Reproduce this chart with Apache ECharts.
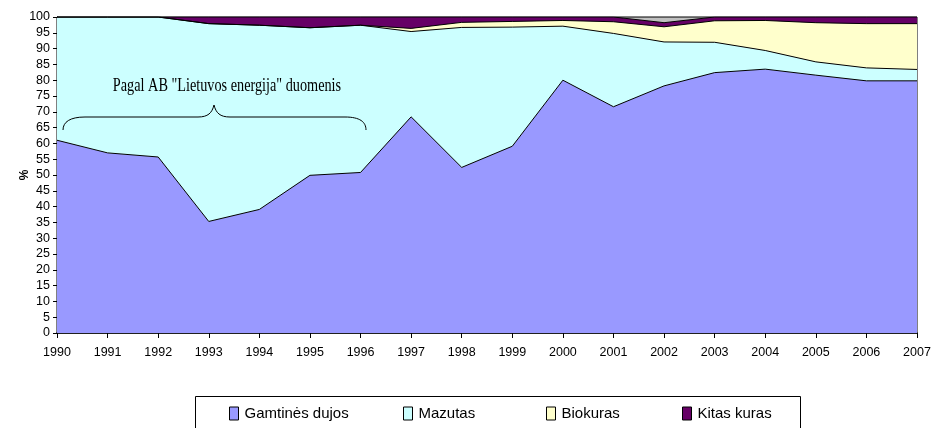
<!DOCTYPE html>
<html>
<head>
<meta charset="utf-8">
<script src="https://cdn.jsdelivr.net/npm/echarts@6.0.0/dist/echarts.min.js"></script>
<style>
  html, body { margin: 0; padding: 0; background: #fff; }
  #kuras { width: 931px; height: 428px; }
</style>
</head>
<body>
<div id="kuras"></div>
<script>
// metai
var metai = ['1990', '1991', '1992', '1993', '1994', '1995', '1996', '1997', '1998',
             '1999', '2000', '2001', '2002', '2003', '2004', '2005', '2006', '2007'];

// kuro struktura, %
var dujos   = [61.0, 57.0, 55.7, 35.3, 39.1, 49.9, 50.8, 68.4, 52.4, 59.1, 80.0, 71.6, 78.2, 82.4, 83.5, 81.6, 79.8, 79.8];
var mazutas = [39.0, 43.0, 44.3, 62.6, 58.3, 46.7, 46.6, 27.0, 44.3, 37.7, 17.1, 23.2, 13.9, 9.6, 5.9, 4.2, 4.1, 3.6];
var biokuras = [0, 0, 0, 0, 0, 0, 0, 1.0, 1.6, 1.8, 1.8, 3.7, 4.8, 6.8, 9.5, 12.4, 14.0, 14.5];
var kitas   = [0, 0, 0, 2.1, 2.6, 3.4, 2.6, 3.6, 1.7, 1.4, 1.1, 1.5, 1.3, 1.2, 1.1, 1.8, 2.1, 2.1];

var pavadinimai = ['Gamtinės dujos', 'Mazutas', 'Biokuras', 'Kitas kuras'];
var spalvos = ['#9999FF', '#CCFFFF', '#FFFFCC', '#660066'];
var legendosX = [229, 403, 546, 682];

var sritis = function (name, data, color) {
    return {
        name: name,
        type: 'line',
        stack: 'viso',
        data: data,
        symbol: 'none',
        color: color,
        itemStyle: { color: color },
        lineStyle: { color: '#000', width: 1 },
        areaStyle: { color: color, opacity: 1 },
        emphasis: { disabled: true }
    };
};

var legendos = [];
for (var i = 0; i < pavadinimai.length; i++) {
    legendos.push({
        data: [pavadinimai[i]],
        left: legendosX[i],
        top: 406,
        padding: 0,
        icon: 'rect',
        itemWidth: 9,
        itemHeight: 13,
        itemStyle: { borderColor: '#000', borderWidth: 1 },
        selectedMode: false,
        textStyle: { fontFamily: 'Liberation Sans, Arial, sans-serif', fontSize: 15, color: '#000', padding: [0, 0, 0, 1] }
    });
}

// skliaustas
var linija = { fill: 'none', stroke: '#000', lineWidth: 1 };
var kreive = function (x1, y1, cx1, cy1, cx2, cy2, x2, y2) {
    return {
        type: 'bezierCurve',
        shape: { x1: x1, y1: y1, cpx1: cx1, cpy1: cy1, cpx2: cx2, cpy2: cy2, x2: x2, y2: y2 },
        style: linija,
        z: 100
    };
};
var tiese = function (x1, y1, x2, y2) {
    return { type: 'line', shape: { x1: x1, y1: y1, x2: x2, y2: y2 }, style: linija, z: 100 };
};

var myChart = echarts.init(document.getElementById('kuras'));
myChart.setOption({
    animation: false,
    textStyle: { fontFamily: 'Liberation Sans, Arial, sans-serif' },
    grid: {
        left: 57, right: 14, top: 17, bottom: 95,
        outerBoundsMode: 'none',
        show: true,
        backgroundColor: '#C0C0C0',
        borderColor: '#000',
        borderWidth: 1
    },
    legend: legendos,
    xAxis: {
        type: 'category',
        data: metai,
        boundaryGap: false,
        axisLine: { lineStyle: { color: '#000', width: 1.5 } },
        axisTick: { length: 5, lineStyle: { color: '#000' } },
        axisLabel: { color: '#000', fontSize: 12.5, margin: 13 },
        splitLine: { show: false }
    },
    yAxis: {
        type: 'value',
        min: 0,
        max: 100,
        interval: 5,
        name: '%',
        nameLocation: 'middle',
        nameRotate: 90,
        nameGap: 26,
        nameMoveOverlap: false,
        nameTextStyle: { color: '#000', fontSize: 12, fontWeight: 'bold' },
        axisLine: { show: true, lineStyle: { color: '#000', width: 1 } },
        axisTick: { show: true, length: 4, lineStyle: { color: '#000' } },
        axisLabel: { color: '#000', fontSize: 12.5, margin: 7 },
        splitLine: { show: false }
    },
    graphic: [
        {
            type: 'rect',
            shape: { x: 195.5, y: 396.5, width: 605, height: 40 },
            style: { fill: '#fff', stroke: '#000', lineWidth: 1 },
            z: 0
        },
        {
            type: 'text',
            x: 227,
            y: 86,
            scaleX: 0.75,
            style: {
                text: 'Pagal AB "Lietuvos energija" duomenis',
                font: '19px "Liberation Serif", "Times New Roman", serif',
                fill: '#000',
                align: 'center',
                verticalAlign: 'middle'
            },
            z: 100
        },
        kreive(63, 130, 63, 122, 70, 117, 85, 117),
        tiese(85, 117, 198, 117),
        kreive(198, 117, 208, 117, 212, 113, 214, 105),
        kreive(214, 105, 216, 113, 220, 117, 230, 117),
        tiese(230, 117, 345, 117),
        kreive(345, 117, 360, 117, 366, 122, 366, 130)
    ],
    series: [
        sritis(pavadinimai[0], dujos, spalvos[0]),
        sritis(pavadinimai[1], mazutas, spalvos[1]),
        sritis(pavadinimai[2], biokuras, spalvos[2]),
        sritis(pavadinimai[3], kitas, spalvos[3])
    ]
});
</script>
</body>
</html>
